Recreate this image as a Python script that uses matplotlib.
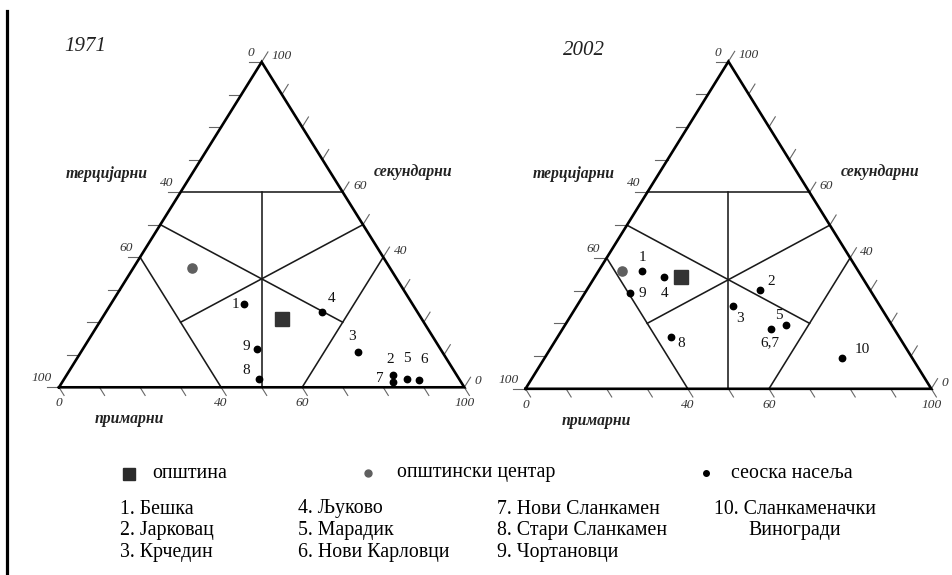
import matplotlib
matplotlib.use("Agg")
import matplotlib.pyplot as plt
from matplotlib.lines import Line2D

plt.rcParams['font.family'] = ['Liberation Serif', 'DejaVu Serif']

# ---------------- data (percent of active population by sector) ----------------
# 1971 settlements
ids_1971 = ["1", "2", "3", "4", "5", "6", "7", "8", "9"]
primary_1971 = [32.8, 80.6, 68.2, 53.2, 84.6, 87.7, 81.6, 48.0, 43.1]
secondary_1971 = [25.5, 3.7, 10.9, 23.2, 2.6, 2.2, 1.7, 2.6, 11.7]
tertiary_1971 = [41.7, 15.7, 20.9, 23.6, 12.8, 10.1, 16.7, 49.4, 45.2]
municipality_1971 = [44.4, 21.0, 34.6]   # primary, secondary, tertiary
centre_1971 = [14.3, 36.8, 48.9]

# 2002 settlements
ids_2002 = ["1", "2", "3", "4", "5", "6,7", "8", "9", "10"]
primary_2002 = [10.7, 42.7, 38.5, 17.1, 54.5, 51.2, 28.0, 11.0, 73.3]
secondary_2002 = [35.9, 30.3, 25.2, 34.3, 19.4, 18.4, 15.8, 29.4, 9.4]
tertiary_2002 = [53.4, 27.0, 36.3, 48.6, 26.1, 30.4, 56.2, 59.6, 17.3]
municipality_2002 = [21.2, 34.3, 44.5]
centre_2002 = [5.7, 36.0, 58.3]

years = ["1971", "2002"]
axis_titles = ["примарни", "секундарни", "терцијарни"]
tick_values = [0, 40, 60, 100]

legend_symbols = ["општина", "општински центар", "сеоска насеља"]
names_col1 = ["1. Бешка", "2. Јарковац", "3. Крчедин"]
names_col2 = ["4. Љуково", "5. Марадик", "6. Нови Карловци"]
names_col3 = ["7. Нови Сланкамен", "8. Стари Сланкамен", "9. Чортановци"]
names_col4 = ["10. Сланкаменачки", "Виногради"]

# ---------------- layout ----------------
W, H = 952, 575
fig = plt.figure(figsize=(W / 100, H / 100), dpi=100)
fig.patch.set_facecolor('white')

# label offsets (pixels, x right / y up) for the point numbers
offs_1971 = [(-8, 0), (-3, 16), (-6, 15), (10, 13), (0, 20), (5, 21), (-13, 3), (-13, 8), (-11, 3)]
offs_2002 = [(1, 14), (11, 8), (7, -12), (0, -17), (-7, 10), (-1, -14), (10, -6), (13, -1), (20, 9)]


def xy(p, s):
    # cartesian position inside the triangle (x: 0..100 along base, y: 0..100 height)
    return p + s / 2.0, s


def make_panel(x0, x1, ybase, yapex):
    ax = fig.add_axes([0, 0, 1, 1])
    sx = (x1 - x0) / 100.0
    sy = (ybase - yapex) / 100.0
    xmin = -x0 / sx
    yb = H - ybase
    ymin = -yb / sy
    ax.set_xlim(xmin, xmin + W / sx)
    ax.set_ylim(ymin, ymin + H / sy)
    ax.axis('off')
    ax.patch.set_alpha(0)
    return ax


def draw_panel(ax, year, year_pos, ids, prim, sec, offs, muni, centre):
    # outer triangle
    tri = [xy(0, 0), xy(100, 0), xy(0, 100), xy(0, 0)]
    ax.plot([t[0] for t in tri], [t[1] for t in tri], color='black', lw=1.9,
            solid_joinstyle='miter', clip_on=False, zorder=3)
    # interior classification lines (p, s pairs)
    segs = [((0, 60), (40, 60)), ((20, 60), (50, 0)), ((0, 50), (60, 20)),
            ((50, 50), (20, 20)), ((60, 0), (60, 40)), ((40, 0), (0, 40))]
    for a, b in segs:
        pa, pb = xy(*a), xy(*b)
        ax.plot([pa[0], pb[0]], [pa[1], pb[1]], color='#1a1a1a', lw=1.15, clip_on=False, zorder=2)
    # ticks
    tc = '#666666'
    for v in range(0, 101, 10):
        # left axis (tertiary): point p=0, s=100-v ; horizontal tick
        p0 = xy(0, 100 - v); p1 = xy(-3, 100 - v)
        ax.plot([p0[0], p1[0]], [p0[1], p1[1]], color=tc, lw=0.8, clip_on=False)
        if v in tick_values:
            ax.annotate(str(v), p1, xytext=(5, 3), textcoords='offset pixels', ha='right', va='bottom',
                        fontsize=9.6, style='italic', color='#333333')
        # right axis (secondary): point p=100-v, s=v ; tick along constant p
        p0 = xy(100 - v, v); p1 = xy(100 - v, v + 3.1)
        ax.plot([p0[0], p1[0]], [p0[1], p1[1]], color=tc, lw=0.8, clip_on=False)
        if v in tick_values:
            ax.annotate(str(v), p1, xytext=(4, -4), textcoords='offset pixels', ha='left', va='center',
                        fontsize=9.6, style='italic', color='#333333')
        # bottom axis (primary): point p=v, s=0 ; tick along constant t
        p0 = xy(v, 0); p1 = xy(v + 2.5, -2.5)
        ax.plot([p0[0], p1[0]], [p0[1], p1[1]], color=tc, lw=0.8, clip_on=False)
        if v in tick_values:
            ax.annotate(str(v), p0, xytext=(0, -16), textcoords='offset pixels', ha='center', va='center',
                        fontsize=9.6, style='italic', color='#333333')
    # axis titles
    tfs = 11.3
    ax.text(17.4, -9.7, axis_titles[0], ha='center', va='center', fontsize=tfs, style='italic',
            weight='bold', color='#222222')
    ax.text(87.3, 66.2, axis_titles[1], ha='center', va='center', fontsize=tfs, style='italic',
            weight='bold', color='#222222')
    ax.text(11.8, 65.6, axis_titles[2], ha='center', va='center', fontsize=tfs, style='italic',
            weight='bold', color='#222222')
    # year
    ax.text(year_pos[0], year_pos[1], year, ha='center', va='center', fontsize=15, style='italic',
            color='#222222')
    # settlements
    for lab, p, s, o in zip(ids, prim, sec, offs):
        x, y = xy(p, s)
        ax.plot(x, y, 'o', color='black', ms=4.6, clip_on=False, zorder=5)
        ax.annotate(lab, (x, y), xytext=o, textcoords='offset pixels', ha='center', va='center',
                    fontsize=11, color='#111111')
    # municipality and centre
    x, y = xy(muni[0], muni[1])
    ax.plot(x, y, 's', color='#333333', ms=9.6, clip_on=False, zorder=5)
    x, y = xy(centre[0], centre[1])
    ax.plot(x, y, 'o', color='#5f5f5f', ms=6.6, clip_on=False, zorder=5)


ax1 = make_panel(59.0, 464.3, 387.3, 62.0)
draw_panel(ax1, years[0], (6.6, 104.9), ids_1971, primary_1971, secondary_1971, offs_1971,
           municipality_1971, centre_1971)
ax2 = make_panel(525.5, 931.3, 388.8, 61.5)
draw_panel(ax2, years[1], (14.4, 103.5), ids_2002, primary_2002, secondary_2002, offs_2002,
           municipality_2002, centre_2002)

# page border line at left
fig.add_artist(Line2D([6.5 / W, 6.5 / W], [0, 1 - 11 / H], transform=fig.transFigure,
                      color='black', lw=2.3))

# legend
lg = fig.add_axes([0, 0, 1, 1])
lg.set_xlim(0, W); lg.set_ylim(H, 0); lg.axis('off'); lg.patch.set_alpha(0)
lg.plot(129, 473.5, 's', color='#2b2b2b', ms=9)
lg.plot(368, 473, 'o', color='#5f5f5f', ms=5)
lg.plot(705.7, 473, 'o', color='black', ms=4)
fs = 14.3
lg.text(152, 473, legend_symbols[0], ha='left', va='center', fontsize=fs)
lg.text(397, 473, legend_symbols[1], ha='left', va='center', fontsize=fs)
lg.text(731, 473, legend_symbols[2], ha='left', va='center', fontsize=fs)
rows = [509, 531, 553]
for col_x, names in [(120, names_col1), (298, names_col2), (497, names_col3)]:
    for r, n in zip(rows, names):
        lg.text(col_x, r, n, ha='left', va='center', fontsize=fs)
lg.text(714, rows[0], names_col4[0], ha='left', va='center', fontsize=fs)
lg.text(748, rows[1], names_col4[1], ha='left', va='center', fontsize=fs)

fig.savefig('out.png', dpi=100, facecolor='white')
